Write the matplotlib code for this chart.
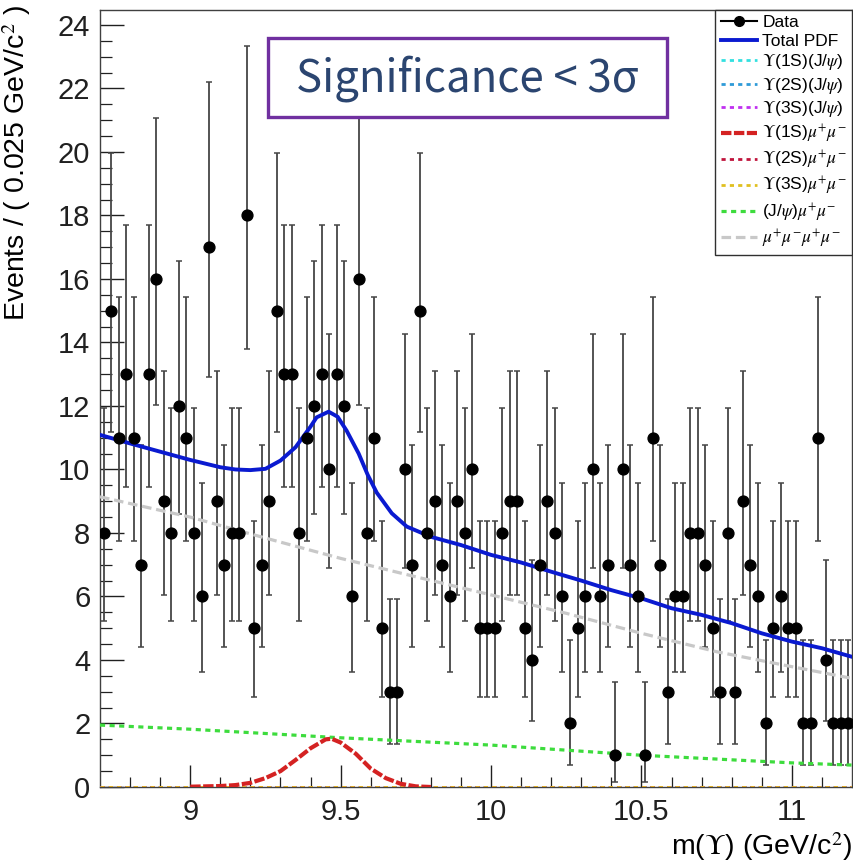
import math
import numpy as np
import matplotlib
matplotlib.use("Agg")
import matplotlib.pyplot as plt
from matplotlib.lines import Line2D
from matplotlib.patches import Rectangle

plt.rcParams['font.family'] = ['Liberation Sans', 'DejaVu Sans']
plt.rcParams['mathtext.fontset'] = 'stix'

# binned data, 0.025 GeV bins from 8.7 to 11.2
x_lo, x_hi, bin_w = 8.7, 11.2, 0.025
counts = [8, 15, 11, 13, 11, 7, 13, 16, 9, 8,
          12, 11, 8, 6, 17, 9, 7, 8, 8, 18,
          5, 7, 9, 15, 13, 13, 8, 11, 12, 13,
          10, 13, 12, 6, 16, 8, 11, 5, 3, 3,
          10, 7, 15, 8, 9, 7, 6, 9, 8, 10,
          5, 5, 5, 8, 9, 9, 5, 4, 7, 9,
          8, 6, 2, 5, 6, 10, 6, 7, 1, 10,
          7, 6, 1, 11, 7, 3, 6, 6, 8, 8,
          7, 5, 3, 8, 3, 9, 7, 6, 2, 5,
          6, 5, 5, 2, 2, 11, 4, 2, 2, 2]

# fitted curves
total_x = [8.70, 8.80, 8.90, 9.00, 9.10, 9.15, 9.20, 9.25, 9.30, 9.35, 9.40, 9.42,
           9.46, 9.49, 9.52, 9.56, 9.59, 9.62, 9.67, 9.72, 9.80, 9.90, 10.0,
           10.1, 10.2, 10.3, 10.4, 10.5, 10.6, 10.7, 10.8, 10.9, 11.0, 11.1, 11.2]
total_y = [11.09, 10.82, 10.56, 10.30, 10.07, 10.00, 9.98, 10.02, 10.28, 10.70, 11.35, 11.64,
           11.82, 11.66, 11.22, 10.50, 9.83, 9.27, 8.62, 8.20, 7.88, 7.62, 7.31,
           7.07, 6.78, 6.50, 6.20, 5.94, 5.63, 5.42, 5.16, 4.84, 4.58, 4.37, 4.10]

bkg4mu_x = [8.7, 9.0, 9.25, 9.5, 9.75, 10.0, 10.25, 10.5, 10.75, 11.0, 11.2]
bkg4mu_y = [9.14, 8.50, 7.84, 7.20, 6.62, 6.05, 5.47, 4.84, 4.26, 3.79, 3.42]

jpsimumu_x = [8.7, 9.0, 9.5, 10.0, 10.5, 11.0, 11.2]
jpsimumu_y = [1.95, 1.82, 1.55, 1.32, 1.00, 0.76, 0.69]

ups1s_x = [9.00, 9.05, 9.10, 9.15, 9.20, 9.25, 9.30, 9.35, 9.40, 9.45, 9.47,
           9.50, 9.55, 9.60, 9.65, 9.70, 9.75, 9.80]
ups1s_y = [0.01, 0.02, 0.03, 0.06, 0.13, 0.28, 0.50, 0.85, 1.22, 1.50, 1.52,
           1.40, 1.05, 0.58, 0.28, 0.10, 0.02, 0.00]

zero_x = [8.7, 11.2]
zero_y = [0.0, 0.0]


def pois_cdf(k, mu):
    s, term = 0.0, math.exp(-mu)
    for i in range(k + 1):
        if i > 0:
            term *= mu / i
        s += term
    return s


def garwood(n, a=0.158655):
    # lower edge
    if n == 0:
        lo = 0.0
    else:
        l, h = 0.0, n
        for _ in range(60):
            m = 0.5 * (l + h)
            if 1 - pois_cdf(n - 1, m) < a:
                l = m
            else:
                h = m
        lo = 0.5 * (l + h)
    l, h = n, n + 10 * math.sqrt(n + 1) + 5
    for _ in range(60):
        m = 0.5 * (l + h)
        if pois_cdf(n, m) > a:
            l = m
        else:
            h = m
    return lo, 0.5 * (l + h)


centers = x_lo + bin_w * (np.arange(len(counts)) + 0.5)
cnt = np.array(counts)
mask = cnt > 0
bounds = np.array([garwood(n) for n in counts])
err_lo = cnt - bounds[:, 0]
err_hi = bounds[:, 1] - cnt

fig = plt.figure(figsize=(8.54, 8.63), dpi=100)
ax = fig.add_axes([100 / 854, 76 / 863, 752 / 854, 777 / 863])

ax.errorbar(centers[mask], cnt[mask], yerr=[err_lo[mask], err_hi[mask]], fmt='none',
            ecolor='#454545', elinewidth=1.3, capsize=2.2, capthick=1.1, zorder=2)

l_c1, = ax.plot(zero_x, zero_y, color='#33e0e0', lw=2, dashes=(1.5, 1.5), zorder=3)
l_c2, = ax.plot(zero_x, zero_y, color='#2f9bd8', lw=2, dashes=(1.5, 1.5), zorder=3)
l_c3, = ax.plot(zero_x, zero_y, color='#c030f0', lw=2, dashes=(1.5, 1.5), zorder=3)
l_c5, = ax.plot(zero_x, zero_y, color='#c0143c', lw=2, dashes=(1.5, 1.5), zorder=3)
l_c6, = ax.plot(zero_x, zero_y, color='#e0c020', lw=2, dashes=(1.5, 1.5), zorder=3)
l_bkg, = ax.plot(bkg4mu_x, bkg4mu_y, color='#c8c8c8', lw=2.3, dashes=(3, 1.5), zorder=3)
l_jp, = ax.plot(jpsimumu_x, jpsimumu_y, color='#3ddc3d', lw=2.3, dashes=(1.6, 1.4), zorder=3)
l_c4, = ax.plot(ups1s_x, ups1s_y, color='#d42222', lw=3.0, dashes=(2.5, 0.6), zorder=3)
l_tot, = ax.plot(total_x, total_y, color='#0a1ad0', lw=2.8, zorder=4)

ax.plot(centers[mask], cnt[mask], 'o', color='black', ms=7.8, zorder=5)

ax.set_xlim(x_lo, x_hi)
ax.set_ylim(0, 24.47)
ax.set_xticks([9, 9.5, 10, 10.5, 11])
ax.set_xticklabels(['9', '9.5', '10', '10.5', '11'])
ax.set_xticks(np.arange(8.8, 11.2, 0.1), minor=True)
ax.set_yticks(np.arange(0, 25, 2))
ax.set_yticks(np.arange(0, 24.5, 0.5), minor=True)
ax.tick_params(which='both', direction='in', top=False, right=False, colors='#202020')
ax.tick_params(axis='y', which='major', length=17, width=1.0, labelsize=21, pad=7)
ax.tick_params(axis='y', which='minor', length=8.5, width=0.9)
ax.tick_params(axis='x', which='major', length=16, width=1.0, labelsize=21, pad=8)
ax.tick_params(axis='x', which='minor', length=7.5, width=0.9)
for s in ax.spines.values():
    s.set_color('#404040')
    s.set_linewidth(1.0)

ax.set_ylabel('Events / ( 0.025 GeV/c$^{2}$ )', fontsize=20.5, loc='top')
ax.yaxis.set_label_coords(-0.089, 1.006)
ax.set_xlabel(r'm($\Upsilon$) (GeV/c$^{2}$)', fontsize=20.5, loc='right')
ax.xaxis.set_label_coords(1.0, -0.056)

data_handle = Line2D([], [], color='black', marker='o', ms=7, lw=1.5)
handles = [data_handle, l_tot, l_c1, l_c2, l_c3, l_c4, l_c5, l_c6, l_jp, l_bkg]
labels = ['Data', 'Total PDF',
          r'$\Upsilon$(1S)(J/$\psi$)', r'$\Upsilon$(2S)(J/$\psi$)', r'$\Upsilon$(3S)(J/$\psi$)',
          r'$\Upsilon$(1S)$\mu^{+}\mu^{-}$', r'$\Upsilon$(2S)$\mu^{+}\mu^{-}$',
          r'$\Upsilon$(3S)$\mu^{+}\mu^{-}$', r'(J/$\psi$)$\mu^{+}\mu^{-}$',
          r'$\mu^{+}\mu^{-}\mu^{+}\mu^{-}$']
leg = ax.legend(handles, labels, loc='upper right', bbox_to_anchor=(1.0, 1.0),
                borderaxespad=0, fontsize=12.5, frameon=True, fancybox=False,
                framealpha=1, edgecolor='#303030', handlelength=2.1, handletextpad=0.3,
                labelspacing=0.2, borderpad=0.3)
leg.get_frame().set_linewidth(1.0)

# annotation box
fig.patches.append(Rectangle((268 / 854, 1 - 117 / 863), 399 / 854, 79 / 863,
                             transform=fig.transFigure, facecolor='white',
                             edgecolor='#7030a0', lw=2.4, zorder=10))
fig.text(467.5 / 854, 1 - 79 / 863, 'Significance < 3σ', ha='center', va='center',
         fontsize=31.5, color='#2b4570', family=['Noto Sans CJK SC', 'DejaVu Sans'],
         zorder=11)

fig.savefig('out.png', dpi=100)
